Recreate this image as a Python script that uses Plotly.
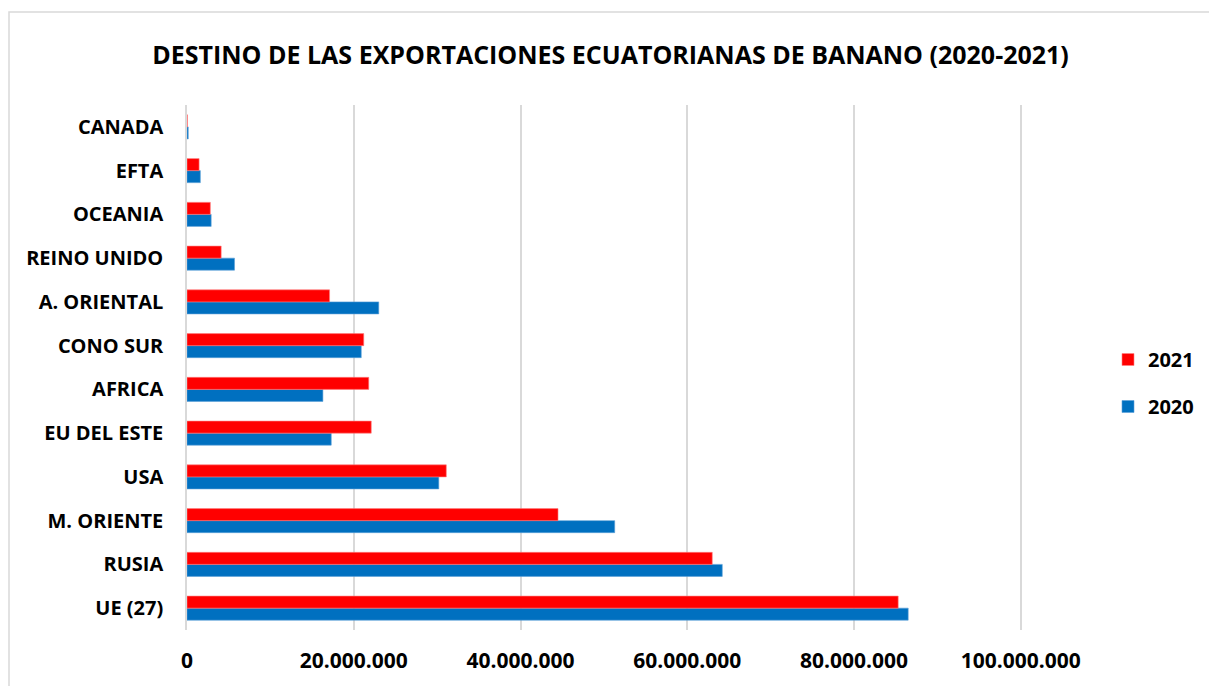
import plotly.graph_objects as go

categories = ["UE (27)", "RUSIA", "M. ORIENTE", "USA", "EU DEL ESTE", "AFRICA",
              "CONO SUR", "A. ORIENTAL", "REINO UNIDO", "OCEANIA", "EFTA", "CANADA"]
values_2021 = [85300000, 63000000, 44500000, 31100000, 22100000, 21800000,
               21200000, 17100000, 4100000, 2800000, 1450000, 50000]
values_2020 = [86500000, 64200000, 51300000, 30200000, 17300000, 16300000,
               20900000, 23000000, 5700000, 2900000, 1600000, 150000]
x_ticks = [0, 20000000, 40000000, 60000000, 80000000, 100000000]

FONT = "Open Sans"

fig = go.Figure()
fig.add_trace(go.Bar(y=categories, x=values_2020, name="2020", orientation="h",
                     legendgroup="g2020", legendrank=2,
                     marker=dict(color="#0070C0", line=dict(color="#5aa0d8", width=0.6))))
fig.add_trace(go.Bar(y=categories, x=values_2021, name="2021", orientation="h",
                     legendgroup="g2021", legendrank=1,
                     marker=dict(color="#FF0000", line=dict(color="#ff8080", width=0.6))))

fig.update_layout(
    width=1209, height=686,
    paper_bgcolor="white", plot_bgcolor="white",
    margin=dict(l=187, r=187, t=105, b=56, autoexpand=False),
    barmode="group", bargap=0.45, bargroupgap=0,
    separators=",.",
    title=dict(text="<b>DESTINO DE LAS EXPORTACIONES ECUATORIANAS DE BANANO (2020-2021)</b>",
               x=0.505, xanchor="center", y=0.92, yanchor="middle",
               font=dict(family=FONT, size=25, color="black")),
    legend=dict(xref="container", yref="container", x=1108 / 1209, y=(686 - 383) / 686,
                xanchor="left", yanchor="middle",
                traceorder="grouped",
                font=dict(family=FONT, size=20, color="black", weight="bold"),
                itemwidth=30, tracegroupgap=18, bgcolor="rgba(0,0,0,0)"),
    font=dict(family=FONT, color="black"),
    showlegend=True,
)
fig.update_xaxes(range=[0, 100150000], tickvals=x_ticks, tickformat=",d",
                 showgrid=True, gridcolor="#d9d9d9", gridwidth=1.5,
                 zeroline=False, showline=False, ticks="",
                 ticklabelstandoff=16,
                 tickfont=dict(family=FONT, size=21, color="black", weight="bold"))
fig.update_yaxes(showgrid=False, showline=True, linecolor="#d9d9d9", linewidth=1.5,
                 ticks="", ticklabelstandoff=18,
                 tickfont=dict(family=FONT, size=20, color="black", weight="bold"))

fig.add_shape(type="rect", xref="paper", yref="paper",
              x0=(9 - 187) / 835, x1=(1215 - 187) / 835,
              y0=(630 - 692) / 525, y1=(630 - 12) / 525,
              line=dict(color="#d9d9d9", width=1.5), fillcolor="rgba(0,0,0,0)", layer="below")

fig.write_html(
    "out.html",
    config={"displayModeBar": False},
    post_script="document.body.style.margin='0';document.body.style.overflow='hidden';"
                "document.documentElement.style.overflow='hidden';",
)
